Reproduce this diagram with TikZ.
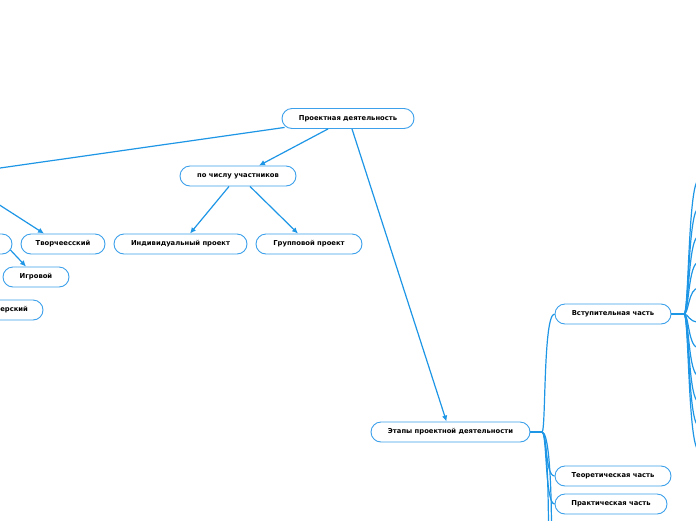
\documentclass[tikz,border=0pt]{standalone}
\usepackage{fontspec}
\setmainfont{DejaVu Sans}
\usetikzlibrary{arrows.meta,calc}
\definecolor{lineblue}{RGB}{30,150,230}
\definecolor{boxblue}{RGB}{60,160,235}
\tikzset{
  topic/.style={draw=boxblue, line width=0.9pt, fill=white, rounded corners=10pt,
    minimum height=20pt, inner sep=0pt, font=\bfseries\fontsize{6.8}{7.5}\selectfont, text=black},
  link/.style={draw=lineblue, line width=1.2pt, -{Latex[length=6pt,width=5.5pt]}},
  plainlink/.style={draw=lineblue, line width=1.2pt},
  branch/.style={draw=lineblue, line width=1.2pt},
  trunk/.style={draw=lineblue, line width=2.8pt},
}
\begin{document}
\begin{tikzpicture}[x=1pt,y=-1pt]
\useasboundingbox (0,0) rectangle (696,520);
\clip (0,0) rectangle (696,520);
\fill[white] (0,0) rectangle (696,520);

% free ends outside the picture
\coordinate (offL) at (-2,168.3);
\coordinate (offL2) at (-2,204);
\coordinate (offB1) at (548.5,524);
\coordinate (offB2) at (551.5,524);
\coordinate (jE) at (542,432);
\coordinate (jV) at (684,314);
\foreach \i/\yy in {1/180,2/208,3/236,4/262,5/288,6/322,7/348,8/376,9/402,10/426,11/450}{
  \coordinate (r\i) at (699,\yy);
}

% branch curves (behind nodes)
\foreach \i/\yy in {1/180,2/208,3/236,4/262,5/288,6/322,7/348,8/376,9/402,10/426,11/450}{
  \draw[branch] (jV) .. controls (689,314) and (688,\yy) .. (r\i);
}

% nodes
\node[topic, minimum width=132pt] (root) at (348,118.5) {Проектная деятельность};
\node[topic, minimum width=116pt] (num) at (238,176) {по числу участников};
\node[topic, minimum width=133pt] (ind) at (180.5,244) {Индивидуальный проект};
\node[topic, minimum width=106pt] (grp) at (309,244) {Групповой проект};
\node[topic, minimum width=84pt] (tv) at (63,244) {Творчеесский};
\node[topic, minimum width=80pt] (part) at (-28,244) {};
\node[topic, minimum width=66pt] (igr) at (36,277) {Игровой};
\node[topic, minimum width=84pt, text width=54pt, align=flush right] (vol) at (1,310) {ерский};
\node[topic, minimum width=159pt] (et) at (450.5,432) {Этапы проектной деятельности};
\node[topic, minimum width=116pt] (vs) at (613,314) {Вступительная часть};
\node[topic, minimum width=116pt] (te) at (613,476) {Теоретическая часть};
\node[topic, minimum width=112pt] (pr) at (611,504) {Практическая часть};

% arrows
\draw[link] ($(root.south)+(-20,0)$) -- ($(num.north)+(21,0)$);
\draw[plainlink] ($(root.south west)+(3,-1.5)$) -- (offL);
\draw[link] (offL2) -- ($(tv.north)+(-19,0)$);
\draw[link] ($(num.south)+(-9,0)$) -- ($(ind.north)+(9.5,0)$);
\draw[link] ($(num.south)+(12,0)$) -- ($(grp.north)+(-11,0)$);
\draw[link] ($(root.south)+(4,0)$) -- ($(et.north)+(-4,0)$);
\draw[link] ($(part.east)+(-2,6)$) -- ($(igr.north)+(-10,0)$);

% mind-map branches from stages
\draw[trunk] (et.east) -- (jE);
\draw[branch] (jE) .. controls (546,432) and (543,314) .. (vs.west);
\draw[branch] (jE) .. controls (547,432) and (545,476) .. (te.west);
\draw[branch] (jE) .. controls (547,432) and (545,504) .. (pr.west);
\draw[branch] (jE) .. controls (546,432) and (548,470) .. (offB1);
\draw[branch] (jE) .. controls (548,432) and (551,470) .. (offB2);
\draw[trunk] (vs.east) -- (jV);
\end{tikzpicture}
\end{document}
